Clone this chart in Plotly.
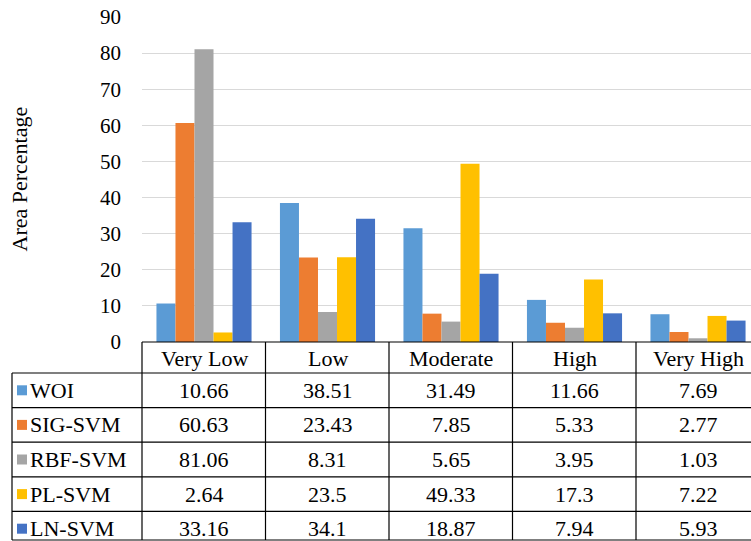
import plotly.graph_objects as go

categories = ["Very Low", "Low", "Moderate", "High", "Very High"]
series_names = ["WOI", "SIG-SVM", "RBF-SVM", "PL-SVM", "LN-SVM"]
woi = [10.66, 38.51, 31.49, 11.66, 7.69]
sig_svm = [60.63, 23.43, 7.85, 5.33, 2.77]
rbf_svm = [81.06, 8.31, 5.65, 3.95, 1.03]
pl_svm = [2.64, 23.5, 49.33, 17.3, 7.22]
ln_svm = [33.16, 34.1, 18.87, 7.94, 5.93]
y_ticks = [0, 10, 20, 30, 40, 50, 60, 70, 80, 90]

series_values = [woi, sig_svm, rbf_svm, pl_svm, ln_svm]
colors = ["#5B9BD5", "#ED7D31", "#A5A5A5", "#FFC000", "#4472C4"]

W, H = 751, 541
FONT = "Liberation Serif, Times New Roman, serif"

def px(x):
    return x / W

def py(y):
    return 1 - y / H

plot_left, plot_right = 142, 751
plot_top, plot_bottom = 17, 342
col_w = 123.5
first_center = 204
x_idx = list(range(len(categories)))

fig = go.Figure()
for name, vals, c in zip(series_names, series_values, colors):
    fig.add_trace(go.Bar(x=x_idx, y=vals, name=name, marker_color=c,
                         marker_line_width=0, showlegend=False, hoverinfo="skip"))

x0 = (plot_left - first_center) / col_w
x1 = (plot_right - first_center) / col_w

fig.update_layout(
    template="none",
    width=W, height=H,
    autosize=False,
    margin=dict(l=0, r=0, t=0, b=0, pad=0),
    paper_bgcolor="white", plot_bgcolor="white",
    barmode="group", bargap=0.23, bargroupgap=0,
    font=dict(family=FONT, color="black"),
    xaxis=dict(domain=[px(plot_left), px(plot_right)], range=[x0, x1],
               showticklabels=False, showgrid=False, zeroline=False,
               showline=False, ticks="", automargin=False),
    yaxis=dict(domain=[py(plot_bottom), py(plot_top)], range=[0, 90],
               tickvals=y_ticks, showgrid=True, gridcolor="#D9D9D9",
               gridwidth=1.3, zeroline=False, showline=False, ticks="",
               automargin=False,
               tickfont=dict(size=21, family=FONT), ticklabelstandoff=20),
)

shapes = []
annotations = []
line = dict(color="black", width=1.2)

def txt(x, y, text, size=22, xanchor="center", angle=0):
    return dict(x=px(x), y=py(y), xref="paper", yref="paper", xanchor=xanchor,
                yanchor="middle", text=text, textangle=angle, showarrow=False,
                font=dict(size=size, family=FONT, color="black"))

annotations.append(txt(19, (plot_top + plot_bottom) / 2, "Area Percentage", size=22, angle=-90))

header_top = 342
header_bottom = 373
row_h = 34.6
table_left = 12
n_rows = len(series_names)
col_edges = [plot_left + col_w * i for i in range(len(categories))]

shapes.append(dict(type="line", xref="paper", yref="paper", x0=px(plot_left), x1=1,
                   y0=py(header_top), y1=py(header_top), line=line))
for r in range(n_rows + 1):
    yy = min(header_bottom + row_h * r, H - 1)
    shapes.append(dict(type="line", xref="paper", yref="paper", x0=px(table_left), x1=1,
                       y0=py(yy), y1=py(yy), line=line))
for xe in col_edges:
    shapes.append(dict(type="line", xref="paper", yref="paper", x0=px(xe), x1=px(xe),
                       y0=py(header_top), y1=py(H - 1), line=line))
shapes.append(dict(type="line", xref="paper", yref="paper", x0=px(table_left), x1=px(table_left),
                   y0=py(header_bottom), y1=py(H - 1), line=line))

for i, cat in enumerate(categories):
    annotations.append(txt(first_center + col_w * i, (header_top + header_bottom) / 2 + 1, cat))

for r, (name, vals, c) in enumerate(zip(series_names, series_values, colors)):
    cy = header_bottom + row_h * (r + 0.5)
    shapes.append(dict(type="rect", xref="paper", yref="paper", x0=px(17), x1=px(27),
                       y0=py(cy + 5), y1=py(cy - 5), fillcolor=c, line=dict(width=0)))
    annotations.append(txt(28, cy, name, xanchor="left"))
    for i, v in enumerate(vals):
        annotations.append(txt(first_center + col_w * i, cy, str(v)))

fig.update_layout(shapes=shapes, annotations=annotations)
fig.write_html("out.html", config={"displayModeBar": False},
               post_script="document.body.style.margin='0';document.body.style.overflow='hidden';")
